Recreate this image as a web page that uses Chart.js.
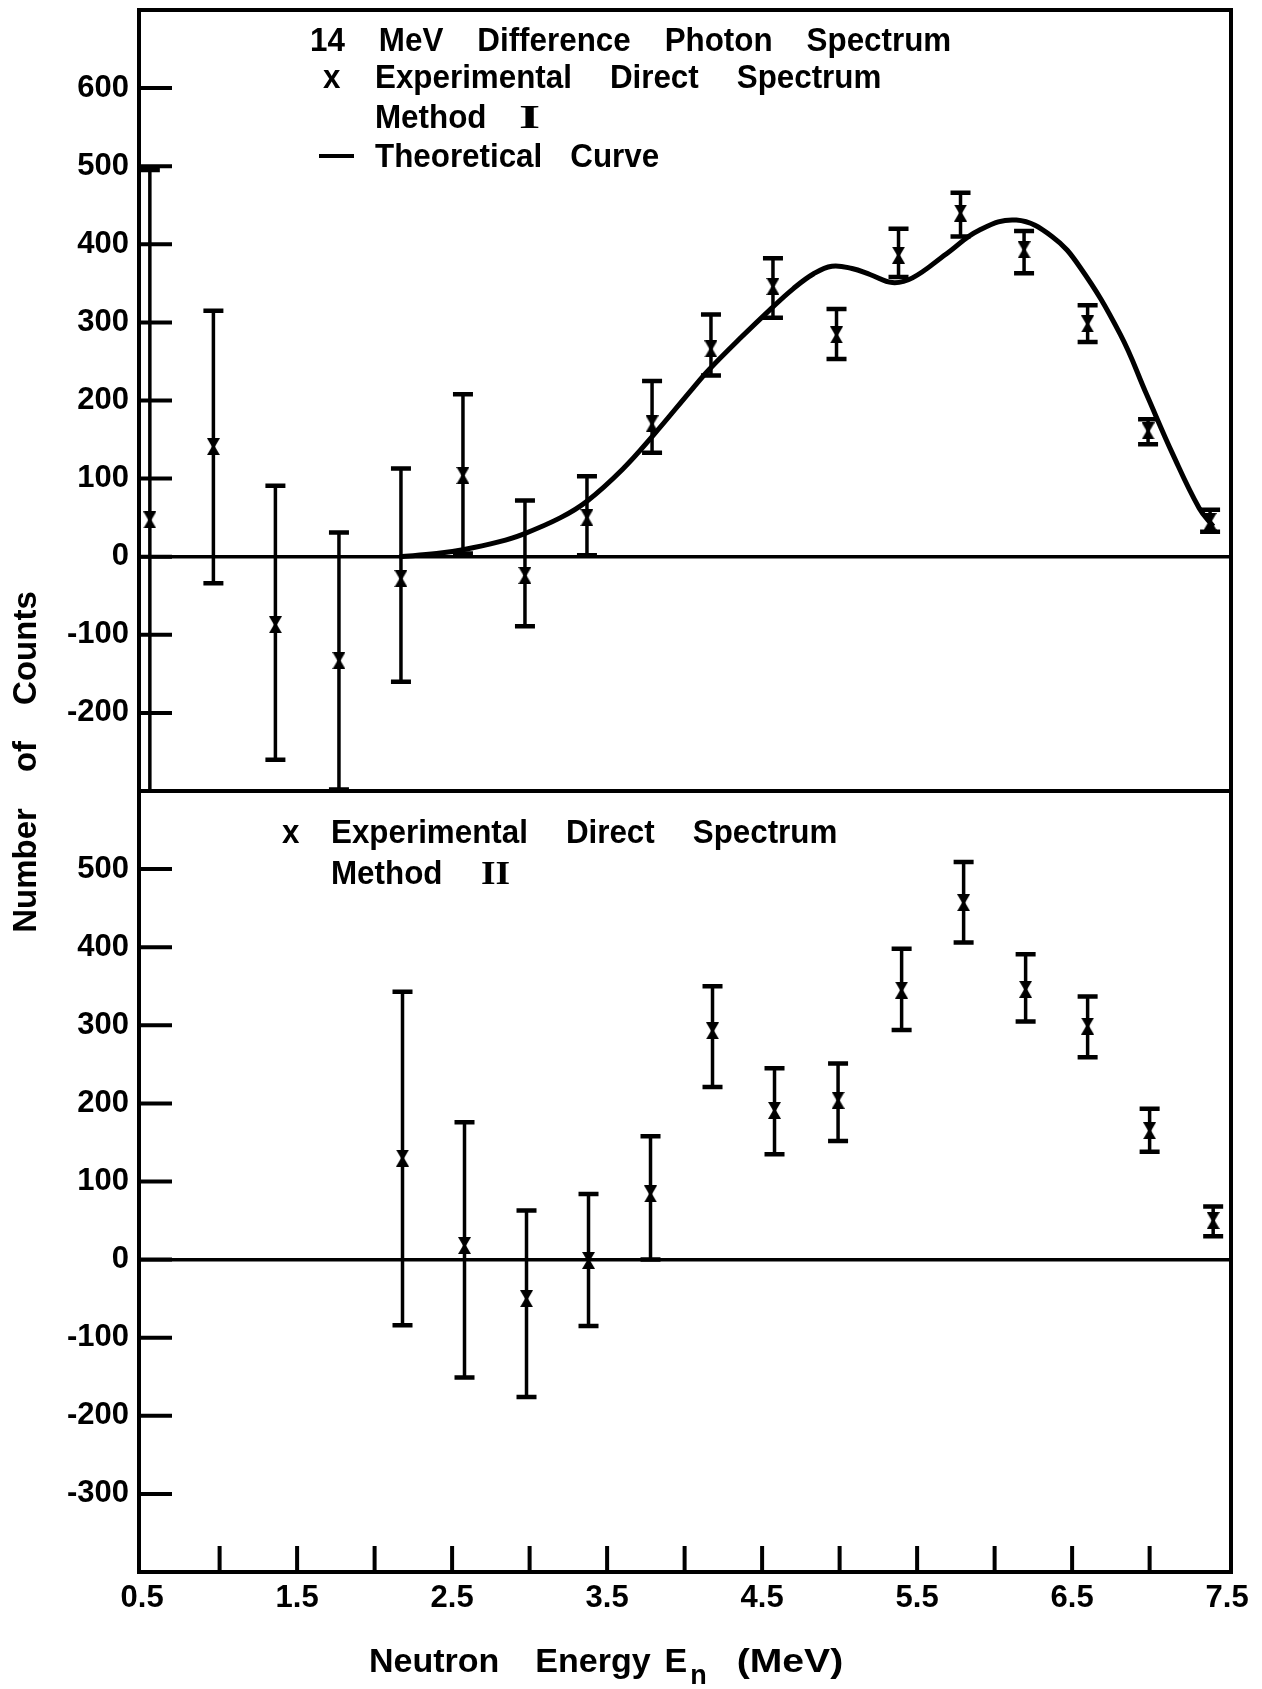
<!DOCTYPE html>
<html>
<head>
<meta charset="utf-8">
<title>14 MeV Difference Photon Spectrum</title>
<script src="https://cdn.jsdelivr.net/npm/chart.js@4.4.1/dist/chart.umd.min.js"></script>
<style>
  html, body { margin: 0; padding: 0; background: #fff; }
  canvas { display: block; }
</style>
</head>
<body>
<canvas id="spectrumChart" width="1262" height="1689"></canvas>
<script>
// Method I (upper panel): neutron energy, counts, error bar ends
const energyI = [0.55, 0.96, 1.36, 1.77, 2.17, 2.57, 2.97, 3.37, 3.79, 4.17, 4.57, 4.98, 5.38, 5.78, 6.19, 6.6, 6.99, 7.39];
const countsI = [47, 141, -87, -133, -28, 104, -24, 50, 170, 266, 346, 284, 386, 440, 393, 298, 161, 45];
const upperI = [495, 315, 91, 31, 113, 208, 72, 103, 225, 310, 382, 317, 420, 466, 417, 322, 176, 60];
const lowerI = [-400, -34, -260, -298, -160, 4, -89, 2, 133, 232, 306, 253, 358, 410, 363, 275, 144, 32];

// theoretical curve, upper panel
const curveEnergy = [2.16, 2.4, 2.57, 2.8, 2.96, 3.2, 3.37, 3.6, 3.8, 4.05, 4.16, 4.35, 4.56, 4.7, 4.83, 4.95, 5.08, 5.2, 5.34, 5.47, 5.69, 5.9, 6.14, 6.37, 6.55, 6.81, 6.98, 7.15, 7.32, 7.41];
const curveCounts = [0, 4, 9, 19, 29, 50, 71, 112, 156, 215, 240, 278, 318, 343, 362, 372, 369, 361, 351, 357, 388, 418, 431, 410, 371, 285, 208, 131, 62, 39];

// Method II (lower panel)
const energyII = [2.18, 2.58, 2.98, 3.38, 3.78, 4.18, 4.58, 4.99, 5.4, 5.8, 6.2, 6.6, 7.0, 7.41];
const countsII = [130, 18, -50, -1, 84, 293, 191, 204, 345, 457, 346, 299, 165, 50];
const upperII = [343, 176, 63, 84, 158, 350, 245, 251, 398, 509, 391, 337, 193, 68];
const lowerII = [-84, -151, -176, -85, 0, 221, 135, 152, 294, 406, 305, 259, 138, 30];

// axes
const xLabelValues = [0.5, 1.5, 2.5, 3.5, 4.5, 5.5, 6.5, 7.5];
const xMarkValues = [1.0, 1.5, 2.0, 2.5, 3.0, 3.5, 4.0, 4.5, 5.0, 5.5, 6.0, 6.5, 7.0];
const yTicksTop = [600, 500, 400, 300, 200, 100, 0, -100, -200];
const yTicksBottom = [500, 400, 300, 200, 100, 0, -100, -200, -300];

const INK = "#000";
const SANS = '"Liberation Sans", Arial, sans-serif';
const SERIF = '"Liberation Serif", "Times New Roman", serif';

function hourglass(w, h) {
  const c = document.createElement("canvas");
  c.width = w;
  c.height = h;
  const g = c.getContext("2d");
  g.fillStyle = INK;
  g.beginPath();
  g.moveTo(0, 0);
  g.lineTo(w, 0);
  g.lineTo(w / 2 + 1.5, h / 2);
  g.lineTo(w, h);
  g.lineTo(0, h);
  g.lineTo(w / 2 - 1.5, h / 2);
  g.closePath();
  g.fill();
  return c;
}
const marker = hourglass(13, 17);

const toPoints = (xs, ys) => xs.map((x, i) => ({ x, y: ys[i] }));

function fixedTicks(values) {
  return (scale) => {
    scale.ticks = values.map((v) => ({ value: v }));
  };
}

// no label overhang padding, the frame sits on the exact chart area
function noOverhang(s) {
  s.paddingTop = 0;
  s.paddingBottom = 0;
  s.paddingLeft = 0;
  s.paddingRight = 0;
}

function yScale(min, max, ticks) {
  return {
    type: "linear",
    position: "left",
    stack: "panels",
    stackWeight: 1,
    min,
    max,
    afterBuildTicks: fixedTicks(ticks),
    afterFit: (s) => {
      s.width = 139;
      noOverhang(s);
    },
    border: { display: false },
    grid: {
      drawTicks: false,
      lineWidth: 3.5,
      color: (c) => (c.tick && c.tick.value === 0 ? INK : "rgba(0,0,0,0)"),
    },
    ticks: {
      color: INK,
      padding: 10,
      font: { family: SANS, size: 31, weight: "bold" },
      callback: (v) => String(v),
    },
  };
}

// text with extra space between words, optionally squeezed horizontally
function words(ctx, list, x, y, gap, font, sx = 1) {
  ctx.save();
  ctx.font = font;
  ctx.translate(x, y);
  ctx.scale(sx, 1);
  let cx = 0;
  for (const w of list) {
    ctx.fillText(w, cx, 0);
    cx += ctx.measureText(w).width + gap / sx;
  }
  ctx.restore();
  return x + cx * sx - gap;
}

function drawErrorBars(chart) {
  const ctx = chart.ctx;
  const xs = chart.scales.x;
  chart.data.datasets.forEach((ds) => {
    if (!ds.upper) return;
    const ys = chart.scales[ds.yAxisID];
    ctx.save();
    ctx.beginPath();
    ctx.rect(xs.left, ys.top, xs.width, ys.height);
    ctx.clip();
    ctx.strokeStyle = INK;
    ds.data.forEach((pt, i) => {
      const px = xs.getPixelForValue(pt.x);
      const top = ys.getPixelForValue(ds.upper[i]);
      const bot = ys.getPixelForValue(ds.lower[i]);
      ctx.lineWidth = 3.5;
      ctx.beginPath();
      ctx.moveTo(px, top);
      ctx.lineTo(px, bot);
      ctx.stroke();
      ctx.lineWidth = 4.5;
      ctx.beginPath();
      ctx.moveTo(px - 10, top);
      ctx.lineTo(px + 10, top);
      ctx.moveTo(px - 10, bot);
      ctx.lineTo(px + 10, bot);
      ctx.stroke();
    });
    ctx.restore();
  });
}

const panelFrame = {
  id: "panelFrame",
  beforeDatasetsDraw(chart) {
    drawErrorBars(chart);
  },
  afterDraw(chart) {
    const ctx = chart.ctx;
    const a = chart.chartArea;
    const xs = chart.scales.x;
    const yt = chart.scales.yTop;
    const yb = chart.scales.yBottom;
    ctx.save();
    ctx.strokeStyle = INK;
    ctx.fillStyle = INK;
    ctx.lineCap = "butt";

    // outer frame and the divider between the panels
    ctx.lineWidth = 4;
    ctx.strokeRect(a.left, a.top, a.right - a.left, a.bottom - a.top);
    ctx.beginPath();
    ctx.moveTo(a.left, yt.bottom);
    ctx.lineTo(a.right, yt.bottom);
    ctx.stroke();

    // inward tick marks
    ctx.lineWidth = 4;
    ctx.beginPath();
    [[yt, yTicksTop], [yb, yTicksBottom]].forEach(([s, vals]) => {
      vals.forEach((v) => {
        const py = s.getPixelForValue(v);
        ctx.moveTo(a.left, py);
        ctx.lineTo(a.left + 33, py);
      });
    });
    xMarkValues.forEach((v) => {
      const px = xs.getPixelForValue(v);
      ctx.moveTo(px, a.bottom);
      ctx.lineTo(px, a.bottom - 26);
    });
    ctx.stroke();

    // key, upper panel
    const big = `bold 33px ${SANS}`;
    ctx.textBaseline = "alphabetic";
    const L = a.left;
    const T = a.top;
    words(ctx, ["14", "MeV", "Difference", "Photon", "Spectrum"], L + 171, T + 41, 34, big, 0.95);
    words(ctx, ["x"], L + 184, T + 78, 0, big, 0.95);
    words(ctx, ["Experimental", "Direct", "Spectrum"], L + 236, T + 78, 38, big, 0.95);
    words(ctx, ["Method"], L + 236, T + 118, 0, big, 0.95);
    words(ctx, ["I"], L + 380, T + 118, 0, `bold 34px ${SERIF}`, 1.6);
    ctx.lineWidth = 4;
    ctx.beginPath();
    ctx.moveTo(L + 180, T + 146);
    ctx.lineTo(L + 215, T + 146);
    ctx.stroke();
    words(ctx, ["Theoretical", "Curve"], L + 236, T + 157, 28, big, 0.95);

    // key, lower panel
    const B = yb.top;
    words(ctx, ["x"], L + 143, B + 52, 0, big, 0.95);
    words(ctx, ["Experimental", "Direct", "Spectrum"], L + 192, B + 52, 38, big, 0.95);
    words(ctx, ["Method"], L + 192, B + 93, 0, big, 0.95);
    words(ctx, ["II"], L + 342, B + 93, 0, `bold 34px ${SERIF}`, 1.1);

    // y axis title
    ctx.save();
    ctx.translate(36, 762);
    ctx.rotate(-Math.PI / 2);
    ctx.font = `bold 33px ${SANS}`;
    const title = ["Number", "of", "Counts"];
    const gapY = 36;
    const totalY = title.reduce((s, w) => s + ctx.measureText(w).width, 0) + gapY * 2;
    words(ctx, title, -totalY / 2, 0, gapY, ctx.font);
    ctx.restore();

    // x axis title with subscript
    const xf = `bold 34px ${SANS}`;
    let ex = words(ctx, ["Neutron", "Energy"], 369, 1672, 36, xf);
    ex = words(ctx, ["E"], ex + 14, 1672, 0, xf);
    ex = words(ctx, ["n"], ex + 3, 1684, 0, `bold 27px ${SANS}`);
    words(ctx, ["(MeV)"], ex + 30, 1672, 0, xf, 1.15);

    ctx.restore();
  },
};

new Chart(document.getElementById("spectrumChart"), {
  type: "scatter",
  data: {
    datasets: [
      {
        label: "Theoretical Curve",
        data: toPoints(curveEnergy, curveCounts),
        yAxisID: "yTop",
        showLine: true,
        borderColor: INK,
        borderWidth: 5,
        pointRadius: 0,
        tension: 0.4,
        fill: false,
      },
      {
        label: "Experimental Direct Spectrum, Method I",
        data: toPoints(energyI, countsI),
        upper: upperI,
        lower: lowerI,
        yAxisID: "yTop",
        pointStyle: marker,
        pointRadius: 7,
      },
      {
        label: "Experimental Direct Spectrum, Method II",
        data: toPoints(energyII, countsII),
        upper: upperII,
        lower: lowerII,
        yAxisID: "yBottom",
        pointStyle: marker,
        pointRadius: 7,
      },
    ],
  },
  options: {
    responsive: false,
    animation: false,
    devicePixelRatio: 1,
    layout: { padding: { top: 10, right: 31, left: 0, bottom: 0 } },
    plugins: { legend: { display: false }, tooltip: { enabled: false } },
    scales: {
      x: {
        type: "linear",
        min: 0.48,
        max: 7.525,
        afterBuildTicks: fixedTicks(xLabelValues),
        afterFit: (s) => {
          s.height = 117;
          noOverhang(s);
        },
        border: { display: false },
        grid: { display: false, drawTicks: false },
        ticks: {
          color: INK,
          padding: 8,
          maxRotation: 0,
          autoSkip: false,
          font: { family: SANS, size: 31, weight: "bold" },
          callback: (v) => Number(v).toFixed(1),
        },
      },
      yBottom: yScale(-400, 600, yTicksBottom),
      yTop: yScale(-300, 700, yTicksTop),
    },
  },
  plugins: [panelFrame],
});
</script>
</body>
</html>
